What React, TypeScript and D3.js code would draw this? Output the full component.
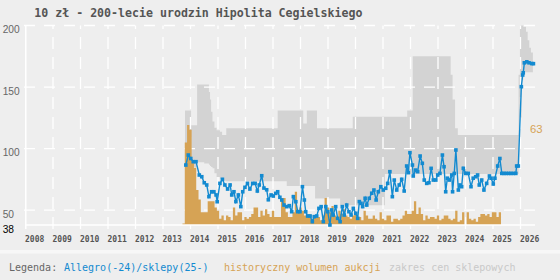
import React from "react";
import * as d3 from "d3";

const W = 560;
const H = 280;

const title = "10 zł - 200-lecie urodzin Hipolita Cegielskiego";
const yearTicks = [2008, 2009, 2010, 2011, 2012, 2013, 2014, 2015, 2016, 2017, 2018, 2019, 2020, 2021, 2022, 2023, 2024, 2025, 2026];
const priceTicks = [50, 100, 150, 200];

// Allegro price: [decimal year, price]
const allegroPrices: [number, number][] = [
  [2013.83, 86.7], [2013.92, 94.8], [2014.01, 92], [2014.1, 89.4], [2014.2, 89.4], [2014.32, 78.6], [2014.41, 77.2],
  [2014.5, 72.3], [2014.59, 70.5], [2014.67, 61], [2014.77, 65], [2014.85, 65], [2014.93, 62.4], [2014.97, 56.9],
  [2015.07, 71.8], [2015.16, 75.1], [2015.25, 70.5], [2015.35, 67.2], [2015.44, 70.5], [2015.5, 62.4], [2015.58, 65],
  [2015.65, 57], [2015.74, 62.4], [2015.83, 52.9], [2015.9, 65], [2015.98, 68.6], [2016.07, 71.8], [2016.16, 67.2],
  [2016.26, 71.8], [2016.35, 71.8], [2016.43, 65.6], [2016.5, 70.5], [2016.59, 78], [2016.67, 68], [2016.77, 66.6],
  [2016.83, 58.5], [2016.93, 62.4], [2017.01, 61.5], [2017.1, 63.7], [2017.17, 65], [2017.25, 60.5], [2017.32, 58.3],
  [2017.4, 54.2], [2017.5, 52.9], [2017.59, 53.7], [2017.68, 48.8], [2017.74, 61], [2017.83, 56.9], [2017.9, 48.8],
  [2017.98, 48.8], [2018.07, 69.1], [2018.14, 58.3], [2018.19, 48.8], [2018.26, 45.3], [2018.35, 45.3], [2018.43, 40.7],
  [2018.5, 44.8], [2018.59, 45.3], [2018.67, 51.5], [2018.75, 52.9], [2018.83, 40.7], [2018.92, 52.9], [2018.99, 48.8],
  [2019.07, 38], [2019.13, 50.2], [2019.19, 46.1], [2019.28, 52.9], [2019.35, 43.4], [2019.44, 40.7], [2019.52, 52.9],
  [2019.59, 46.1], [2019.68, 54.2], [2019.76, 48.8], [2019.84, 46.1], [2019.92, 51.5], [2020.01, 47.5], [2020.08, 43.4],
  [2020.14, 57], [2020.2, 55.6], [2020.26, 52.9], [2020.35, 59.7], [2020.41, 54.2], [2020.5, 59.7], [2020.59, 63.8],
  [2020.67, 66.4], [2020.75, 58.3], [2020.83, 65], [2020.92, 69.1], [2021.01, 66.4], [2021.1, 67.8], [2021.17, 71.8],
  [2021.25, 81.3], [2021.34, 61], [2021.41, 74.5], [2021.5, 66.4], [2021.59, 70.5], [2021.68, 75.1], [2021.77, 65.6],
  [2021.86, 85.9], [2021.92, 80.5], [2021.98, 96.7], [2022.07, 86.7], [2022.1, 77.8], [2022.19, 82.6], [2022.26, 81.3],
  [2022.35, 94], [2022.43, 88.1], [2022.5, 74.5], [2022.59, 71.8], [2022.67, 72.3], [2022.75, 84], [2022.83, 74.5],
  [2022.92, 74.5], [2022.99, 78.6], [2023.07, 79.9], [2023.16, 94.8], [2023.22, 85.3], [2023.28, 65], [2023.34, 76],
  [2023.41, 74.5], [2023.5, 78.6], [2023.53, 65], [2023.59, 79.9], [2023.65, 98.9], [2023.74, 66.4], [2023.8, 70.5],
  [2023.86, 69.1], [2023.92, 84], [2024.01, 79.9], [2024.1, 79.9], [2024.2, 69.1], [2024.28, 76], [2024.37, 77.2],
  [2024.44, 78.6], [2024.5, 70.5], [2024.59, 74.5], [2024.67, 66.4], [2024.77, 71.8], [2024.87, 77.8], [2024.93, 76],
  [2025.01, 71.3], [2025.07, 76], [2025.17, 85.9], [2025.25, 92], [2025.32, 79.9], [2025.4, 79.9], [2025.48, 79.9],
  [2025.57, 79.9], [2025.65, 79.9], [2025.74, 79.9], [2025.83, 79.9], [2025.86, 85.9], [2025.92, 85.9], [2026.03, 150.3],
  [2026.08, 159.8], [2026.1, 161.6], [2026.14, 169.7], [2026.23, 170.5], [2026.31, 169.7], [2026.41, 169.1], [2026.47, 169],
];

// Shop price range: [decimal year, min, max] (step function)
const shopRange: [number, number, number][] = [
  [2013.8, 85, 131], [2014.02, 85, 119], [2014.24, 89, 152], [2014.5, 88, 152], [2014.67, 87, 146],
  [2014.71, 86, 140], [2014.75, 85, 130], [2014.8, 84, 122], [2014.87, 80, 117], [2014.95, 77, 115],
  [2015.07, 75.5, 113.8], [2015.15, 74, 111], [2015.3, 73.6, 116.5], [2017.17, 73.6, 131], [2017.5, 69.7, 131],
  [2018.1, 69.7, 120.5], [2018.23, 69.7, 131], [2018.53, 59.6, 131], [2018.6, 59.6, 116.5], [2019.44, 54, 116.5],
  [2019.9, 54, 126], [2021.07, 79.4, 126], [2021.88, 79.4, 131], [2022.08, 79.4, 175], [2023.46, 79.4, 160],
  [2023.53, 79.4, 140], [2023.62, 79.4, 116.5], [2023.72, 79.4, 111], [2025.93, 110, 160], [2025.98, 125, 200],
  [2026.04, 156, 200], [2026.1, 162, 199], [2026.2, 162, 195], [2026.26, 162, 188], [2026.32, 162, 182],
  [2026.38, 162, 178], [2026.45, 162, 178],
];

// Monthly auction volume starting October 2013
const volumeStartYear = 2013;
const volumeStartMonth = 10;
const volumes = [
  1, 52, 63, 60, 40, 36, 22, 16, 8, 8, 8, 15, 15, 15, 11, 9,
  4, 6, 3, 6, 5, 3, 11, 6, 8, 8, 3, 5, 4, 5, 7, 11, 11, 5, 9, 6, 10, 7, 5, 9, 5, 5,
  5, 17, 17, 8, 5, 5, 8, 21, 8, 11, 9, 6, 5, 7, 4, 5, 6, 5, 3, 6, 17, 11, 8, 12,
  6, 5, 9, 7, 10, 6, 5, 4, 6, 8, 4, 5, 3, 9, 6, 4, 4, 6, 4, 3, 8, 4, 3, 6, 6, 2,
  4, 4, 3, 4, 6, 9, 7, 7, 9, 15, 7, 11, 7, 3, 6, 4, 5, 5, 4, 6, 3, 4, 6, 6, 4, 3,
  4, 9, 2, 3, 8, 0, 8, 4, 3, 4, 2, 5, 7, 7, 6, 7, 5, 8, 8, 5, 8,
];

const legendLabel = "Legenda:";
const legendItems = [
  { text: "Allegro(-24)/sklepy(25-)", color: "#138ad0", x: 64 },
  { text: "historyczny wolumen aukcji", color: "#d6a355", x: 224 },
  { text: "zakres cen sklepowych", color: "#c9c9c9", x: 389 },
];

const BLUE = "#138ad0";
const ORANGE = "#d6a355";
const BAND = "#d3d3d3";
const BG = "#eeeeee";
const MONO = "'DejaVu Sans Mono', monospace";
const SANS = "'Liberation Sans', Arial, sans-serif";

export default function App() {
  const left = 25.8;
  const right = 535;
  const top = 25.5;
  const bottom = 225;

  const minPrice = d3.min(allegroPrices, (d) => d[1]) as number;
  const x = d3.scaleLinear().domain([2008, 2026.5]).range([25.5, 534.25]);
  const y = d3.scaleLinear().domain([minPrice, 200]).range([bottom, top]);
  const maxVol = d3.max(volumes) as number;
  const yVol = d3.scaleLinear().domain([0, maxVol]).range([bottom, 125]);

  const band = d3
    .area<[number, number, number]>()
    .x((d) => x(d[0]))
    .y0((d) => y(d[1]))
    .y1((d) => y(Math.min(200, d[2])))
    .curve(d3.curveStepAfter)(shopRange) as string;

  const line = d3
    .line<[number, number]>()
    .x((d) => x(d[0]))
    .y((d) => y(d[1]))(allegroPrices) as string;

  // bars as a stepped area (month left edges), closed by the last bar's right edge
  const t0 = volumeStartYear + (volumeStartMonth - 1) / 12;
  const volPts: [number, number][] = volumes.map((v, i) => [t0 + i / 12 - 1 / 24, v]);
  volPts.push([t0 + volumes.length / 12 - 1 / 24, volumes[volumes.length - 1]]);
  const volArea = d3
    .area<[number, number]>()
    .x((d) => x(d[0]))
    .y0(bottom)
    .y1((d) => yVol(d[1]))
    .curve(d3.curveStepAfter)(volPts) as string;

  return (
    <svg
      width={W}
      height={H}
      viewBox={`0 0 ${W} ${H}`}
      style={{ position: "fixed", left: 0, top: 0, display: "block" }}
    >
      <rect x={0} y={0} width={W} height={H} fill={BG} />
      <rect x={0} y={250} width={W} height={3.5} fill="#f7f7f7" />

      <text x={34.3} y={16.5} fontFamily={MONO} fontWeight="bold" fontSize={11.6} fill="#555">
        {title}
      </text>

      {/* shop range band */}
      <path d={band} fill={BAND} />

      {/* grid */}
      {priceTicks.map((p) => (
        <line key={"h" + p} x1={24} x2={right} y1={y(p)} y2={y(p)} stroke="#fff" strokeWidth={1.3} strokeDasharray="11,9" />
      ))}
      {yearTicks.slice(1).map((yr) => (
        <line key={"v" + yr} x1={x(yr)} x2={x(yr)} y1={229} y2={top} stroke="#fff" strokeWidth={1.3} strokeDasharray="12,8" />
      ))}

      {/* volume bars */}
      <path d={volArea} fill={ORANGE} />

      {/* axes */}
      <line x1={left} x2={left} y1={top} y2={229} stroke="#fff" strokeWidth={1.5} />
      <line x1={left} x2={right} y1={bottom} y2={bottom} stroke="#fff" strokeWidth={1.5} />

      {/* allegro line */}
      <path d={line} fill="none" stroke={BLUE} strokeWidth={1.4} />
      {allegroPrices.map((d, i) => (
        <rect key={"m" + i} x={x(d[0]) - 1.8} y={y(d[1]) - 1.8} width={3.6} height={3.6} fill={BLUE} />
      ))}

      {/* y labels */}
      {priceTicks.map((p) => (
        <text key={"yl" + p} x={2.7} y={y(p) + 7.5} fontFamily={SANS} fontSize={10.2} fill="#666">
          {p}
        </text>
      ))}
      <text x={2.7} y={bottom + 7.5} fontFamily={SANS} fontSize={10.2} fill="#000">
        {minPrice}
      </text>

      {/* year labels */}
      {yearTicks.map((yr) => (
        <text key={"xl" + yr} x={x(yr) - 0.5} y={241.6} fontFamily={MONO} fontWeight="bold" fontSize={8} fill="#555">
          {yr}
        </text>
      ))}

      {/* max volume label */}
      <text x={530} y={yVol(maxVol) + 8.3} fontFamily={SANS} fontSize={11.3} fill={ORANGE}>
        {maxVol}
      </text>

      {/* legend */}
      <text x={9} y={271} fontFamily={MONO} fontSize={10} fill="#666">
        {legendLabel}
      </text>
      {legendItems.map((it) => (
        <text key={it.text} x={it.x} y={271} fontFamily={MONO} fontSize={10} fill={it.color}>
          {it.text}
        </text>
      ))}
    </svg>
  );
}
